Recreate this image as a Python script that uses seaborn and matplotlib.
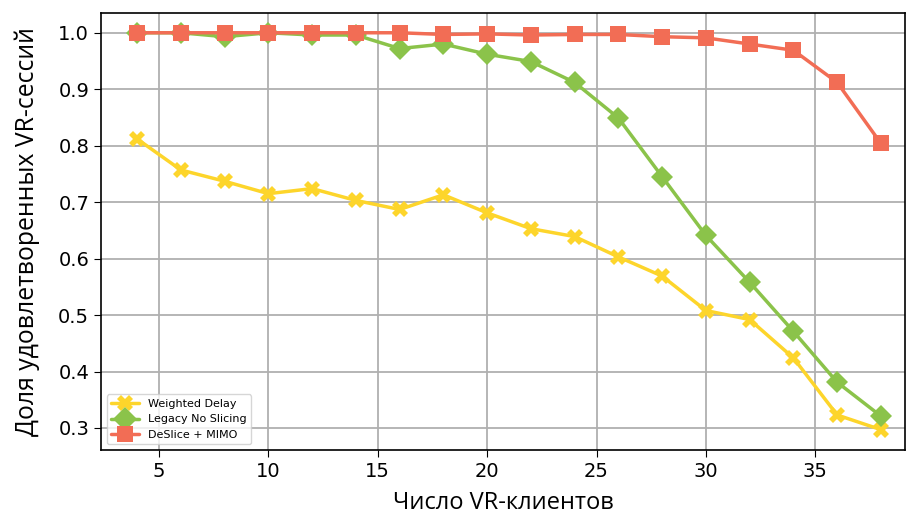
import numpy as np
import pandas as pd
import matplotlib
matplotlib.use('Agg')
import matplotlib.pyplot as plt
import seaborn as sns

# --- data ---
clients = [4, 6, 8, 10, 12, 14, 16, 18, 20, 22, 24, 26, 28, 30, 32, 34, 36, 38]
weighted_delay = [0.812, 0.757, 0.737, 0.715, 0.724, 0.703, 0.687, 0.713, 0.681,
                  0.653, 0.639, 0.603, 0.569, 0.508, 0.492, 0.424, 0.323, 0.297]
legacy_no_slicing = [1.0, 1.0, 0.993, 1.0, 0.996, 0.996, 0.972, 0.980, 0.962,
                     0.949, 0.912, 0.849, 0.745, 0.641, 0.558, 0.471, 0.381, 0.321]
deslice_mimo = [1.0, 1.0, 1.0, 1.0, 1.0, 1.0, 1.0, 0.997, 0.998,
                0.996, 0.997, 0.997, 0.993, 0.991, 0.980, 0.969, 0.912, 0.804]
series_names = ['Weighted Delay', 'Legacy No Slicing', 'DeSlice + MIMO']

df = pd.concat([
    pd.DataFrame({'x': clients, 'y': vals, 'method': name})
    for name, vals in zip(series_names, [weighted_delay, legacy_no_slicing, deslice_mimo])
])

palette = {'Weighted Delay': '#FDD52B', 'Legacy No Slicing': '#8BC34A', 'DeSlice + MIMO': '#F26D55'}
markers = {'Weighted Delay': 'X', 'Legacy No Slicing': 'D', 'DeSlice + MIMO': 's'}

sns.set_style('ticks')
plt.rcParams['font.family'] = ['DejaVu Sans']

fig = plt.figure(figsize=(9.06, 5.17), dpi=100)
ax = fig.add_axes([101 / 906, 67 / 517, 804 / 906, 437 / 517])

sns.lineplot(data=df, x='x', y='y', hue='method', style='method', palette=palette,
             markers=markers, dashes=False, linewidth=2.5, markersize=11,
             markeredgewidth=0, ax=ax)

ax.set_xlim(2.35, 39.1)
ax.set_ylim(0.261, 1.035)
ax.set_xticks([5, 10, 15, 20, 25, 30, 35])
ax.set_yticks([0.3, 0.4, 0.5, 0.6, 0.7, 0.8, 0.9, 1.0])
ax.grid(True, color='#b0b0b0', linewidth=1.3)
ax.tick_params(labelsize=14, length=5, color='black', labelcolor='black')
for s in ax.spines.values():
    s.set_color('black')
    s.set_linewidth(1.2)

ax.set_xlabel('Число VR-клиентов', fontsize=17, family=['Open Sans', 'DejaVu Sans'],
              color='black', labelpad=7)
ax.set_ylabel('Доля удовлетворенных VR-сессий', fontsize=17.8,
              family=['Open Sans', 'DejaVu Sans'], color='black', labelpad=13)

leg = ax.legend(title=None, loc='lower left', fontsize=8, framealpha=0.8,
                handlelength=2.5, markerscale=1.1)
for t in leg.get_texts():
    t.set_color('black')

fig.savefig('out.png', dpi=100)
